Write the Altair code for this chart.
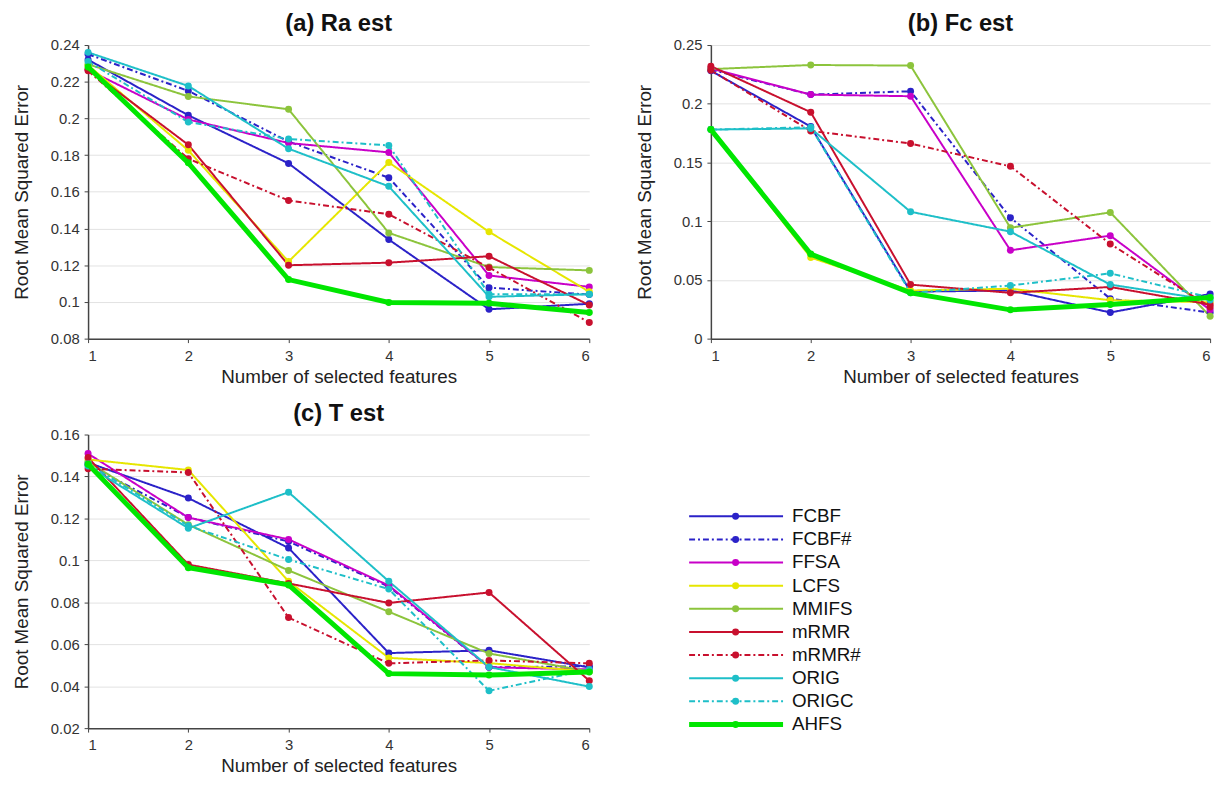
import altair as alt
import pandas as pd

METHODS = ["FCBF", "FCBF#", "FFSA", "LCFS", "MMIFS", "mRMR", "mRMR#", "ORIG", "ORIGC", "AHFS"]
COLORS = ["#2B22C8", "#2B22C8", "#C800C8", "#E6E600", "#8CC43C", "#C8102E", "#C8102E", "#1EBFC8", "#1EBFC8", "#00E600"]
DASHES = [[1, 0], [6, 3, 2, 3], [1, 0], [1, 0], [1, 0], [1, 0], [6, 3, 2, 3], [1, 0], [6, 3, 2, 3], [1, 0]]
K = [1, 2, 3, 4, 5, 6]

# (a) Ra est
RA_FCBF = [0.232, 0.2017, 0.1755, 0.134, 0.096, 0.099]
RA_FCBF_H = [0.235, 0.215, 0.1874, 0.1677, 0.1078, 0.104]
RA_FFSA = [0.2265, 0.1994, 0.1866, 0.1815, 0.1144, 0.1082]
RA_LCFS = [0.229, 0.1826, 0.122, 0.176, 0.1382, 0.1055]
RA_MMIFS = [0.2295, 0.212, 0.205, 0.1376, 0.119, 0.1172]
RA_MRMR = [0.2268, 0.1856, 0.120, 0.1214, 0.1249, 0.0983]
RA_MRMR_H = [0.226, 0.178, 0.1553, 0.1478, 0.1187, 0.0888]
RA_ORIG = [0.236, 0.2177, 0.1835, 0.163, 0.1028, 0.1042]
RA_ORIGC = [0.231, 0.198, 0.1888, 0.1853, 0.1042, 0.1042]
RA_AHFS = [0.228, 0.1758, 0.1122, 0.0997, 0.0993, 0.0942]

# (b) Fc est
FC_FCBF = [0.228, 0.1806, 0.040, 0.041, 0.0223, 0.038]
FC_FCBF_H = [0.229, 0.2078, 0.2106, 0.103, 0.034, 0.0222]
FC_FFSA = [0.230, 0.2078, 0.2064, 0.0752, 0.0877, 0.0245]
FC_LCFS = [0.178, 0.069, 0.041, 0.0425, 0.0327, 0.031]
FC_MMIFS = [0.2295, 0.233, 0.2325, 0.0944, 0.1075, 0.019]
FC_MRMR = [0.232, 0.1928, 0.046, 0.039, 0.044, 0.029]
FC_MRMR_H = [0.2285, 0.1769, 0.1661, 0.1467, 0.0806, 0.027]
FC_ORIG = [0.178, 0.179, 0.108, 0.0911, 0.046, 0.033]
FC_ORIGC = [0.178, 0.180, 0.039, 0.0452, 0.0556, 0.035]
FC_AHFS = [0.178, 0.072, 0.039, 0.0245, 0.029, 0.035]

# (c) T est
T_FCBF = [0.1466, 0.1297, 0.1059, 0.0558, 0.0571, 0.049]
T_FCBF_H = [0.1455, 0.1205, 0.109, 0.0875, 0.049, 0.0495]
T_FFSA = [0.1509, 0.1204, 0.110, 0.088, 0.049, 0.048]
T_LCFS = [0.1481, 0.1431, 0.090, 0.0535, 0.051, 0.047]
T_MMIFS = [0.147, 0.117, 0.0952, 0.0755, 0.0556, 0.047]
T_MRMR = [0.149, 0.098, 0.089, 0.0797, 0.0847, 0.0426]
T_MRMR_H = [0.1437, 0.1419, 0.0727, 0.0509, 0.0523, 0.0509]
T_ORIG = [0.145, 0.1153, 0.1325, 0.090, 0.0491, 0.0398]
T_ORIGC = [0.146, 0.1165, 0.1004, 0.0863, 0.0378, 0.048]
T_AHFS = [0.1458, 0.0965, 0.0883, 0.046, 0.0453, 0.0468]

RA_Y = [0.08, 0.10, 0.12, 0.14, 0.16, 0.18, 0.20, 0.22, 0.24]
FC_Y = [0, 0.05, 0.10, 0.15, 0.20, 0.25]
T_Y = [0.02, 0.04, 0.06, 0.08, 0.10, 0.12, 0.14, 0.16]

FONT = "Liberation Sans"
THIN = 2
THICK = 5


def to_df(series_list):
    rows = []
    for m, vals in zip(METHODS, series_list):
        for k, v in zip(K, vals):
            rows.append({"method": m, "k": k, "rmse": v})
    return pd.DataFrame(rows)


color_scale = alt.Scale(domain=METHODS, range=COLORS)
dash_scale = alt.Scale(domain=METHODS, range=DASHES)


def panel(series_list, title, yvals, w, h):
    df = to_df(series_list)
    x = alt.X("k:Q", scale=alt.Scale(domain=[1, 6], nice=False),
              axis=alt.Axis(values=K, format="d", grid=False, title="Number of selected features",
                            labelPadding=6, titlePadding=4))
    y = alt.Y("rmse:Q", scale=alt.Scale(domain=[yvals[0], yvals[-1]], nice=False, zero=False),
              axis=alt.Axis(values=yvals, format="~g", title="Root Mean Squared Error",
                            labelPadding=5, titlePadding=19))
    col = alt.Color("method:N", scale=color_scale, legend=None)
    dash = alt.StrokeDash("method:N", scale=dash_scale, legend=None)
    base = alt.Chart(df)
    others = base.transform_filter(alt.datum.method != "AHFS")
    ah = base.transform_filter(alt.datum.method == "AHFS")
    layers = [
        others.mark_line(strokeWidth=THIN).encode(x=x, y=y, color=col, strokeDash=dash),
        others.mark_point(filled=True, size=50, opacity=1).encode(x=x, y=y, color=col),
        ah.mark_line(strokeWidth=THICK).encode(x=x, y=y, color=col),
        ah.mark_point(filled=True, size=50, opacity=1).encode(x=x, y=y, color=col),
    ]
    return alt.layer(*layers).properties(
        width=w, height=h,
        title=alt.TitleParams(title, frame="group", anchor="middle"),
    )


pa = panel([RA_FCBF, RA_FCBF_H, RA_FFSA, RA_LCFS, RA_MMIFS, RA_MRMR, RA_MRMR_H, RA_ORIG, RA_ORIGC, RA_AHFS],
           "(a) Ra est", RA_Y, 507, 297)
pb = panel([FC_FCBF, FC_FCBF_H, FC_FFSA, FC_LCFS, FC_MMIFS, FC_MRMR, FC_MRMR_H, FC_ORIG, FC_ORIGC, FC_AHFS],
           "(b) Fc est", FC_Y, 505, 297)
pc = panel([T_FCBF, T_FCBF_H, T_FFSA, T_LCFS, T_MMIFS, T_MRMR, T_MRMR_H, T_ORIG, T_ORIGC, T_AHFS],
           "(c) T est", T_Y, 507, 297)

leg_df = pd.DataFrame({"method": METHODS})
ly = alt.Y("method:N", sort=METHODS, axis=None, scale=alt.Scale(type="point", range=[71, 305]))
lcol = alt.Color("method:N", scale=color_scale, legend=None)
lbase = alt.Chart(leg_df)
lothers = lbase.transform_filter(alt.datum.method != "AHFS")
lah = lbase.transform_filter(alt.datum.method == "AHFS")
legend = alt.layer(
    lothers.mark_rule(strokeWidth=THIN).encode(
        x=alt.value(0), x2=alt.value(95), y=ly, color=lcol,
        strokeDash=alt.StrokeDash("method:N", scale=dash_scale, legend=None),
    ),
    lah.mark_rule(strokeWidth=THICK).encode(x=alt.value(0), x2=alt.value(95), y=ly, color=lcol),
    lbase.mark_point(filled=True, size=50, opacity=1).encode(x=alt.value(47), y=ly, color=lcol),
    lbase.mark_text(align="left", baseline="middle", fontSize=19, font=FONT, color="#111111").encode(
        x=alt.value(104), y=ly, text="method:N",
    ),
).properties(width=200, height=330)

chart = alt.vconcat(
    alt.hconcat(pa, pb, spacing=36),
    alt.hconcat(pc, legend, spacing=88),
    spacing=16,
).properties(
    padding={"left": 4, "top": 0, "right": 0, "bottom": 0}
).configure_view(stroke=None).configure_axis(
    labelFont=FONT, titleFont=FONT, labelFontSize=15, titleFontSize=19,
    titleFontWeight="normal", labelColor="#333333", titleColor="#222222",
    domainColor="#444444", domainWidth=1.5, tickColor="#444444", tickSize=4,
    gridColor="#e2e2e2", gridWidth=1,
).configure_title(
    font=FONT, fontSize=24, fontWeight="bold", color="#111111", offset=2,
)

chart.save("out.html", embed_options={"renderer": "svg", "actions": False})
